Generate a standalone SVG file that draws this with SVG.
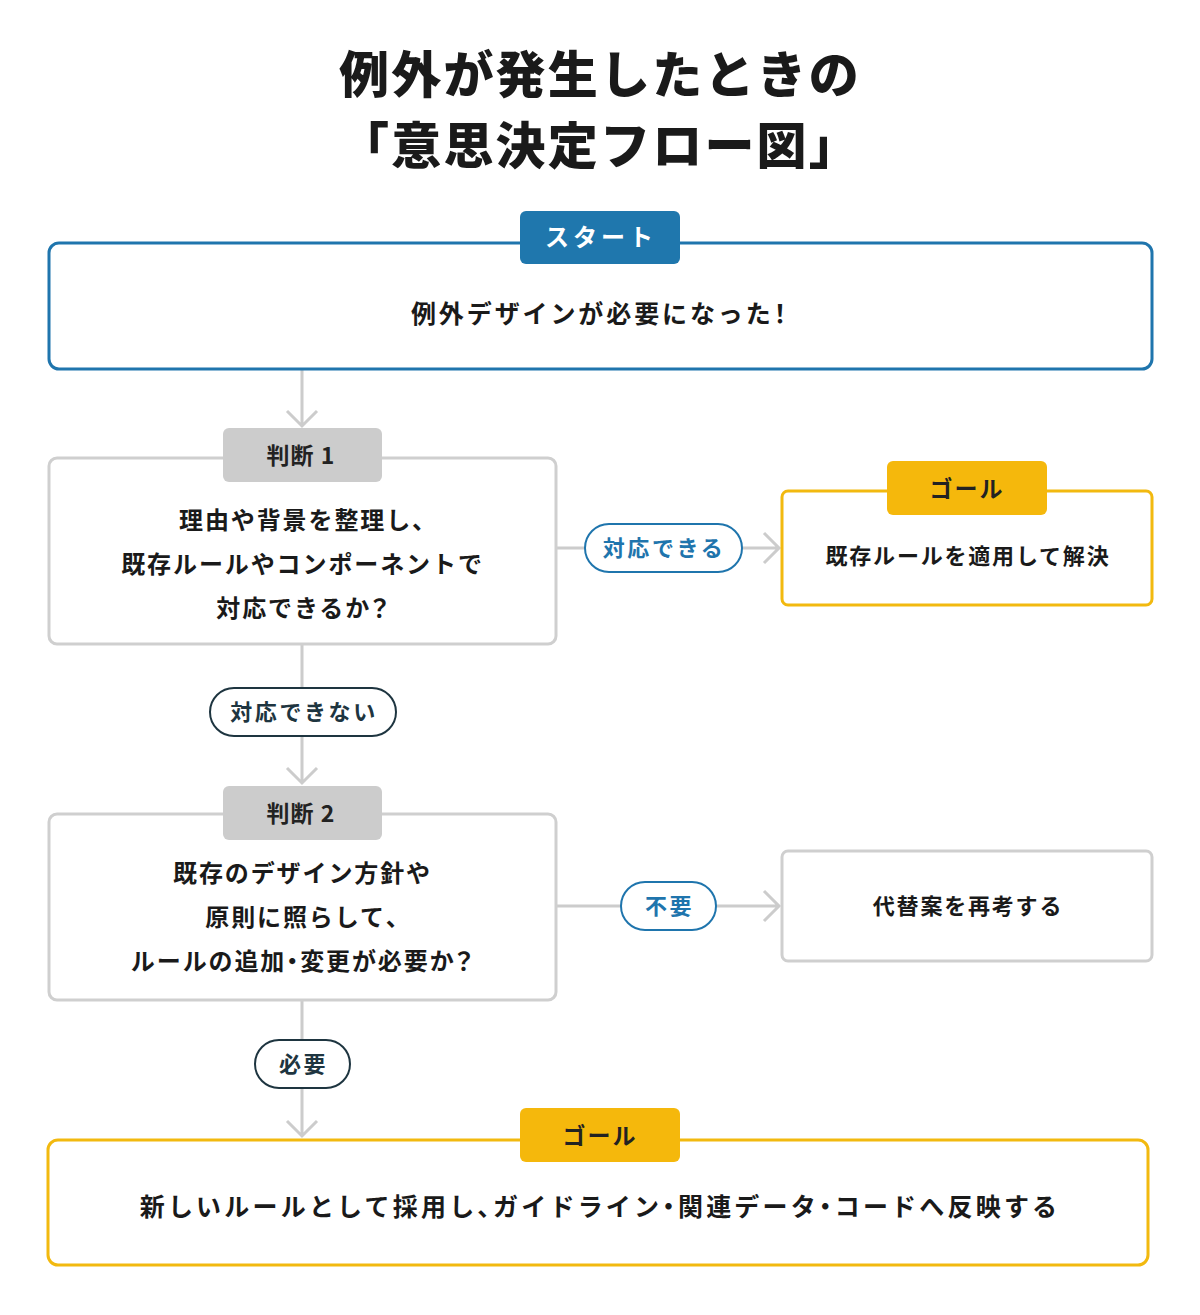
<svg xmlns="http://www.w3.org/2000/svg" width="1200" height="1315" viewBox="0 0 1200 1315">
<defs>
<style>
text{font-family:"Noto Sans CJK JP","Noto Sans",sans-serif;font-weight:700;text-anchor:middle;fill:#1a1a1a}
.title{font-size:50px;letter-spacing:2.2px;font-weight:900}
.body{font-size:24px;letter-spacing:1.9px}
.big{font-size:25px;letter-spacing:2.9px}
.side{font-size:22px;letter-spacing:1.8px}
.tagt{font-size:23px;letter-spacing:2px}
.pillt{font-size:22px;letter-spacing:2.6px}
.p{font-feature-settings:"halt"}
.q{font-feature-settings:"palt"}
.box-blue{fill:#fff;stroke:#1f75ad;stroke-width:3}
.box-yellow{fill:#fff;stroke:#f2b90f;stroke-width:3}
.box-gray{fill:#fff;stroke:#cfcfcf;stroke-width:3}
.line{fill:none;stroke:#cccccc;stroke-width:3}
.pill-blue{fill:#fff;stroke:#1f75ad;stroke-width:2}
.pill-dark{fill:#fff;stroke:#1e3540;stroke-width:2}
</style>
</defs>
<rect width="1200" height="1315" fill="#fff"/>
<g id="title">
<text class="title" x="600" y="93">例外が発生したときの</text>
<text class="title" x="600" y="164">「意思決定フロー図」</text>
</g>
<g id="connectors">
<path class="line" d="M302 370 V426 M287 411 L302 426 L317 411"/>
<path class="line" d="M556 548 H779 M764 533 L779 548 L764 563"/>
<path class="line" d="M302 644 V783 M287 768 L302 783 L317 768"/>
<path class="line" d="M556 906 H779 M764 891 L779 906 L764 921"/>
<path class="line" d="M302 1000 V1136 M287 1121 L302 1136 L317 1121"/>
<g id="label-ok">
<rect class="pill-blue" x="585" y="524" width="157" height="48" rx="24"/>
<text class="pillt" x="664" y="556" style="fill:#1f75ad">対応できる</text>
</g>
<g id="label-ng">
<rect class="pill-dark" x="210" y="688" width="186" height="48" rx="24"/>
<text class="pillt" x="304" y="720" style="fill:#1e3540">対応できない</text>
</g>
<g id="label-unneeded">
<rect class="pill-blue" x="621" y="882" width="95" height="48" rx="24"/>
<text class="pillt" x="669.5" y="914" style="fill:#1f75ad">不要</text>
</g>
<g id="label-needed">
<rect class="pill-dark" x="255" y="1040" width="95" height="48" rx="24"/>
<text class="pillt" x="303.5" y="1072" style="fill:#1e3540">必要</text>
</g>
</g>
<g id="start">
<rect class="box-blue" x="49" y="243" width="1103" height="126" rx="10"/>
<rect x="520" y="211" width="160" height="53" rx="6" fill="#1f77ad"/>
<text class="tagt" x="601" y="246" style="fill:#fff;font-size:24px;letter-spacing:4px">スタート</text>
<text class="big" x="600" y="323">例外デザインが必要になった<tspan class="p">！</tspan></text>
</g>
<g id="judge1">
<rect class="box-gray" x="49" y="458" width="507" height="186" rx="8"/>
<rect x="223" y="428" width="159" height="54" rx="6" fill="#cccccc"/>
<text class="tagt" x="301" y="464" style="fill:#222;letter-spacing:1px">判断 1</text>
<text class="body" x="302.5" y="529">理由や背景を整理し<tspan class="p">、</tspan></text>
<text class="body" x="302.5" y="573">既存ルールやコンポーネントで</text>
<text class="body" x="303" y="617">対応できるか<tspan class="q">？</tspan></text>
</g>
<g id="goal1">
<rect class="box-yellow" x="782" y="491" width="370" height="114" rx="6"/>
<rect x="887" y="461" width="160" height="54" rx="6" fill="#f5b80c"/>
<text class="tagt" x="967" y="497" style="fill:#222">ゴール</text>
<text class="side" x="968" y="564">既存ルールを適用して解決</text>
</g>
<g id="judge2">
<rect class="box-gray" x="49" y="814" width="507" height="186" rx="8"/>
<rect x="223" y="786" width="159" height="54" rx="6" fill="#cccccc"/>
<text class="tagt" x="301" y="822" style="fill:#222;letter-spacing:1px">判断 2</text>
<text class="body" x="302.5" y="882">既存のデザイン方針や</text>
<text class="body" x="302.5" y="926">原則に照らして<tspan class="p">、</tspan></text>
<text class="body" x="302.5" y="970">ルールの追加<tspan class="p">・</tspan>変更が必要か<tspan class="q">？</tspan></text>
</g>
<g id="rethink">
<rect class="box-gray" x="782" y="851" width="370" height="110" rx="6"/>
<text class="side" x="968" y="914">代替案を再考する</text>
</g>
<g id="goal2">
<rect class="box-yellow" x="48" y="1140" width="1100" height="125" rx="10"/>
<rect x="520" y="1108" width="160" height="54" rx="6" fill="#f5b80c"/>
<text class="tagt" x="600" y="1144" style="fill:#222">ゴール</text>
<text class="big" x="600" y="1216" style="letter-spacing:3.2px">新しいルールとして採用し<tspan class="p">、</tspan>ガイドライン<tspan class="p">・</tspan>関連データ<tspan class="p">・</tspan>コードへ反映する</text>
</g>
</svg>
